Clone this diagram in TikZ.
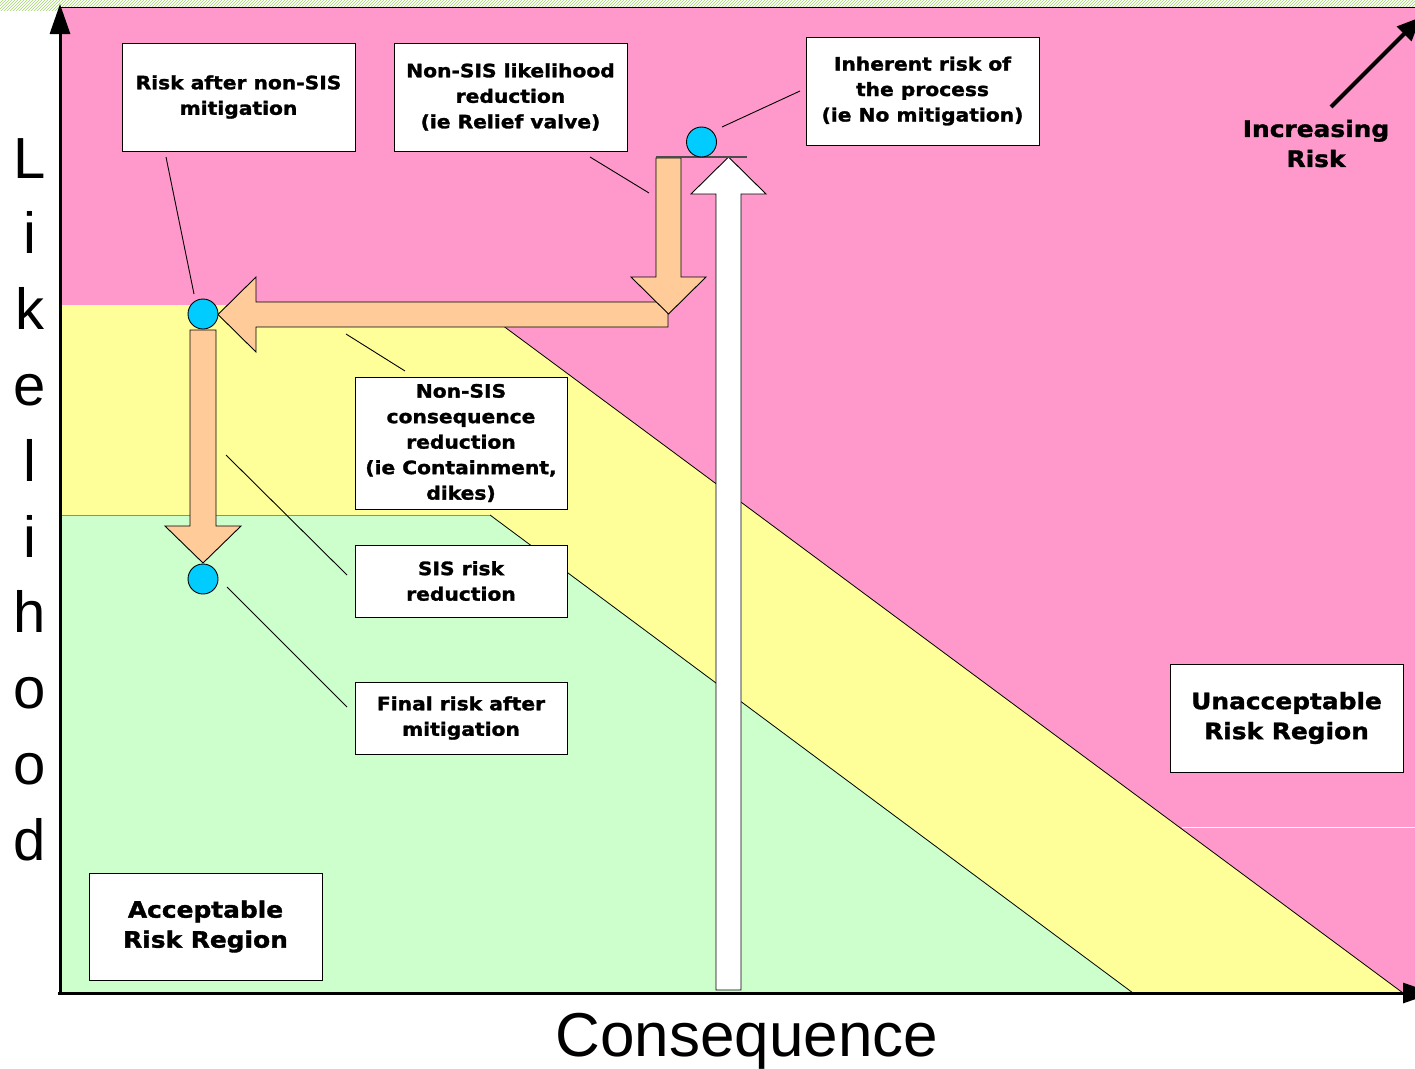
\documentclass[tikz,border=0pt]{standalone}
\usepackage{fontspec}
\newfontfamily\lbl[FakeStretch=1.1,FakeBold=1.5]{DejaVu Sans}
\newfontfamily\axfont{Liberation Sans}
\usetikzlibrary{arrows.meta,patterns}
\definecolor{riskpink}{RGB}{255,153,204}
\definecolor{riskyellow}{RGB}{255,255,153}
\definecolor{riskgreen}{RGB}{204,255,204}
\definecolor{riskorange}{RGB}{255,204,153}
\definecolor{riskblue}{RGB}{0,204,255}
\definecolor{hatchgreen}{RGB}{165,210,110}
\begin{document}
\begin{tikzpicture}[x=1pt,y=-1pt,
 box/.style={draw=black,line width=1pt,fill=white,align=center,inner sep=0pt},
 smalltext/.style={font=\lbl\bfseries\fontsize{18.4}{25.5}\selectfont},
 bigtext/.style={font=\lbl\bfseries\fontsize{22.6}{30}\selectfont},
 leader/.style={draw=black,line width=0.9pt},
 fatarrow/.style={draw=black,line width=0.9pt,line join=miter},
 dot/.style={circle,draw=black,line width=0.9pt,fill=riskblue,minimum size=30pt,inner sep=0pt},
 axis/.style={line width=3pt,-{Triangle[length=30pt,width=20pt]}},
 axislabel/.style={font=\axfont\fontsize{60}{60}\selectfont,anchor=base,inner sep=0pt}
]
\useasboundingbox (0,0) rectangle (1415,1068);
\clip (0,0) rectangle (1415,1068);
\fill[white] (0,0) rectangle (1415,1068);
% top hatched strip
\fill[pattern=north east lines, pattern color=hatchgreen] (0,0) rectangle (1415,10);
% regions
\fill[riskpink] (60,7) rectangle (1415,993);
\fill[riskyellow] (60,305) -- (475,305) -- (1403,993) -- (60,993) -- cycle;
\fill[riskgreen] (60,515) -- (490,515) -- (1133,993) -- (60,993) -- cycle;
\draw[line width=0.8pt] (475,305) -- (1403,993);
\draw[line width=0.8pt] (490,515) -- (1133,993);
\draw[black!45,line width=0.8pt] (60,515) -- (490,515);
\draw[white,line width=1pt] (1182,827) -- (1415,827);
\draw[line width=1pt] (60,7) -- (1415,7);
% big white arrow (inherent risk)
\draw[fatarrow,fill=white] (716,990) -- (741,990) -- (741,194) -- (766,194) -- (728.5,157) -- (691,194) -- (716,194) -- cycle;
% orange arrows
\draw[fatarrow,fill=riskorange] (668,302) -- (668,327) -- (256,327) -- (256,352) -- (218,314.5) -- (256,277) -- (256,302) -- cycle;
\draw[fatarrow,fill=riskorange] (656,158) -- (681,158) -- (681,277) -- (706,277) -- (668.5,314) -- (631,277) -- (656,277) -- cycle;
\draw[black!70,line width=1.3pt] (656,157) -- (747,157);
\draw[fatarrow,fill=riskorange] (190,330) -- (216,330) -- (216,526) -- (241,526) -- (203,563) -- (165,526) -- (190,526) -- cycle;
% risk points
\node[dot] (inherent) at (701.5,142) {};
\node[dot] (nonsis) at (203,314) {};
\node[dot] (final) at (203,579) {};
% boxes
\node[box,smalltext,minimum width=233pt,minimum height=108pt] (b1) at (238.5,97) {Risk after non-SIS\\mitigation};
\node[box,smalltext,minimum width=233pt,minimum height=108pt] (b2) at (510.5,97) {Non-SIS likelihood\\reduction\\(ie Relief valve)};
\node[box,smalltext,minimum width=233pt,minimum height=108pt] (b3) at (922.5,91) {Inherent risk of\\the process\\(ie No mitigation)};
\node[box,smalltext,minimum width=212pt,minimum height=132pt] (b4) at (461,443) {Non-SIS\\consequence\\reduction\\(ie Containment,\\dikes)};
\node[box,smalltext,minimum width=212pt,minimum height=72pt] (b5) at (461,581) {SIS risk\\reduction};
\node[box,smalltext,minimum width=212pt,minimum height=72pt] (b6) at (461,718) {Final risk after\\mitigation};
\node[box,bigtext,minimum width=233pt,minimum height=108pt] (b7) at (1286.5,718) {Unacceptable\\Risk Region};
\node[box,bigtext,minimum width=233pt,minimum height=107pt] (b8) at (205.5,926.5) {Acceptable\\Risk Region};
% leader lines
\coordinate (l1a) at (166,157); \coordinate (l1b) at (194,294);
\coordinate (l2a) at (590,157); \coordinate (l2b) at (649,193);
\coordinate (l3a) at (722,127); \coordinate (l3b) at (800,91);
\coordinate (l4a) at (346,334); \coordinate (l4b) at (405,371);
\coordinate (l5a) at (226,455); \coordinate (l5b) at (347,575);
\coordinate (l6a) at (227,587); \coordinate (l6b) at (347,707);
\draw[leader] (l1a) -- (l1b);
\draw[leader] (l2a) -- (l2b);
\draw[leader] (l3a) -- (l3b);
\draw[leader] (l4a) -- (l4b);
\draw[leader] (l5a) -- (l5b);
\draw[leader] (l6a) -- (l6b);
% increasing risk
\node[bigtext,align=center,inner sep=0pt] (inc) at (1316,143.5) {Increasing\\Risk};
\coordinate (incA) at (1331,107);
\coordinate (incB) at (1421,17);
\draw[line width=4pt,-{Triangle[length=24pt,width=20pt]}] (incA) -- (incB);
% axes
\coordinate (ybot) at (60,995);
\coordinate (ytip) at (60,4);
\coordinate (xleft) at (58,993);
\coordinate (xtip) at (1433,993);
\draw[axis] (ybot) -- (ytip);
\draw[axis] (xleft) -- (xtip);
% axis labels
\node[axislabel,font=\axfont\fontsize{62}{62}\selectfont] (xlabel) at (747,1056) {Consequence};
\foreach \ch [count=\i from 0] in {L,i,k,e,l,i,h,o,o,d}
  \node[axislabel,font=\axfont\fontsize{58}{58}\selectfont] (ylab\i) at (30,{178+75.8*\i}) {\ch};
\end{tikzpicture}
\end{document}
